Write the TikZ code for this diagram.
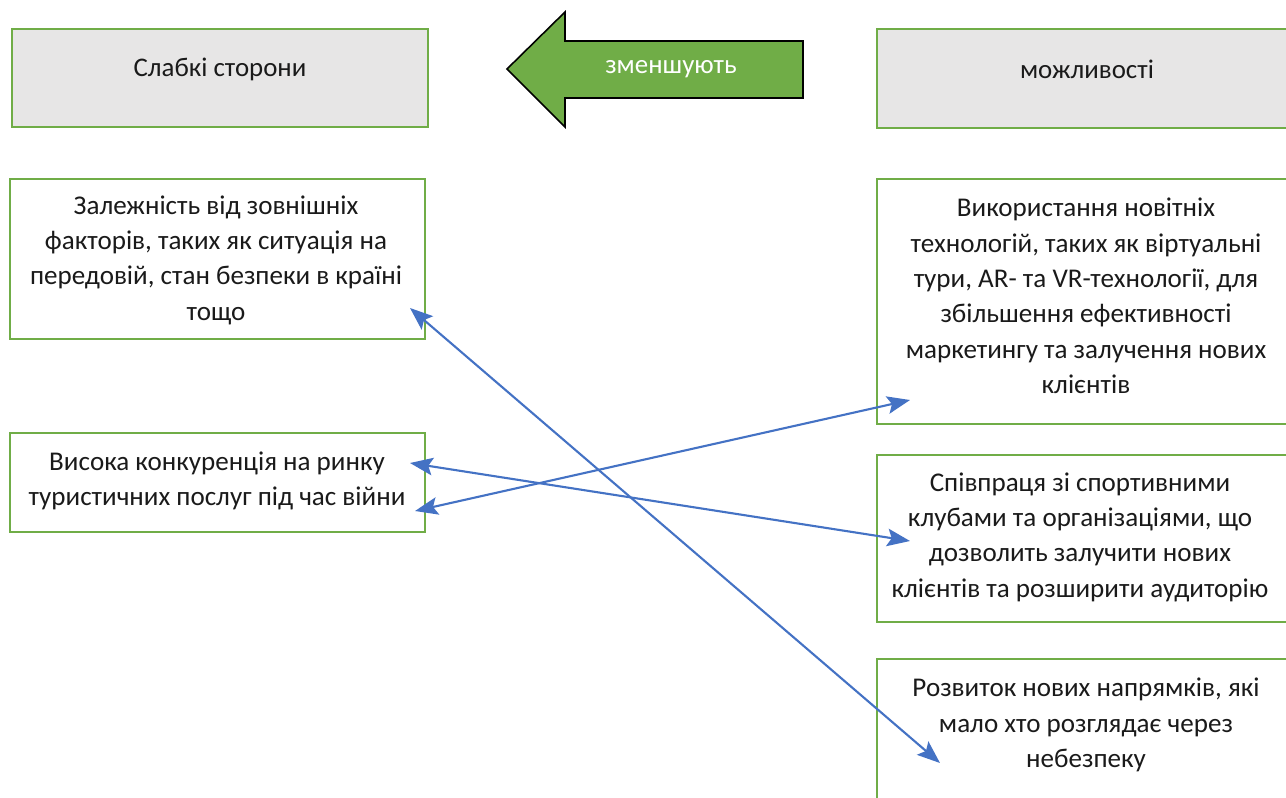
\documentclass[tikz,border=0pt]{standalone}
\usepackage{fontspec}
\setmainfont{Carlito}
\usetikzlibrary{arrows.meta}
\definecolor{bgreen}{HTML}{70AD47}
\definecolor{bgray}{HTML}{E7E6E6}
\definecolor{bblue}{HTML}{4472C4}
\definecolor{txt}{HTML}{1A1A1A}
\tikzset{
  box/.style={draw=bgreen, line width=1.6pt, inner sep=0pt},
  hdr/.style={box, fill=bgray},
  lbl/.style={text=txt, font=\fontsize{15.4}{20.1}\selectfont, align=center},
  hlbl/.style={text=txt, font=\fontsize{15.3}{20.1}\selectfont, align=center},
  link/.style={draw=bblue, line width=1.2pt, {Stealth[length=13pt,width=10pt,inset=2.5pt]}-{Stealth[length=13pt,width=10pt,inset=2.5pt]}}
}
\begin{document}
\begin{tikzpicture}[x=0.02cm,y=-0.02cm]
\useasboundingbox (0,0) rectangle (1286,798);
\clip (0,0) rectangle (1286,798);
% headers
\draw[hdr] (12,29) rectangle (428,127);
\node[hlbl] (weak) at (220,69) {Слабкі сторони};
\draw[hdr] (877,29) rectangle (1300,128);
\node[hlbl] (opp) at (1087,69) {можливості};
% big arrow
\draw[fill=bgreen, draw=black, line width=0.9pt] (507,69) -- (565,12) -- (565,41) -- (803,41) -- (803,98) -- (565,98) -- (565,127) -- cycle;
\node[hlbl, text=white] (reduce) at (671,69) {зменшують};
% left boxes
\draw[box] (10,179) rectangle (425,339);
\node[lbl] (w1) at (216,260) {Залежність від зовнішніх\\факторів, таких як ситуація на\\передовій, стан безпеки в країні\\тощо};
\draw[box] (10,433) rectangle (425,532);
\node[lbl] (w2) at (217,481) {Висока конкуренція на ринку\\туристичних послуг під час війни};
% right boxes
\draw[box] (877,179) rectangle (1300,424);
\node[lbl] (o1) at (1086,296) {Використання новітніх\\технологій, таких як віртуальні\\тури, AR- та VR-технології, для\\збільшення ефективності\\маркетингу та залучення нових\\клієнтів};
\draw[box] (877,455) rectangle (1300,622);
\node[lbl] (o2) at (1080,537) {Співпраця зі спортивними\\клубами та організаціями, що\\дозволить залучити нових\\клієнтів та розширити аудиторію};
\draw[box] (877,659) rectangle (1300,810);
\node[lbl] (o3) at (1086,725) {Розвиток нових напрямків, які\\мало хто розглядає через\\небезпеку};
% connector ends
\coordinate (w1e) at (410,308);
\coordinate (o3e) at (940,763);
\coordinate (w2a) at (415,511);
\coordinate (o1e) at (910,400);
\coordinate (w2b) at (410,463);
\coordinate (o2e) at (910,541);
\draw[link] (w1e) -- (o3e);
\draw[link] (w2a) -- (o1e);
\draw[link] (w2b) -- (o2e);
\end{tikzpicture}
\end{document}
